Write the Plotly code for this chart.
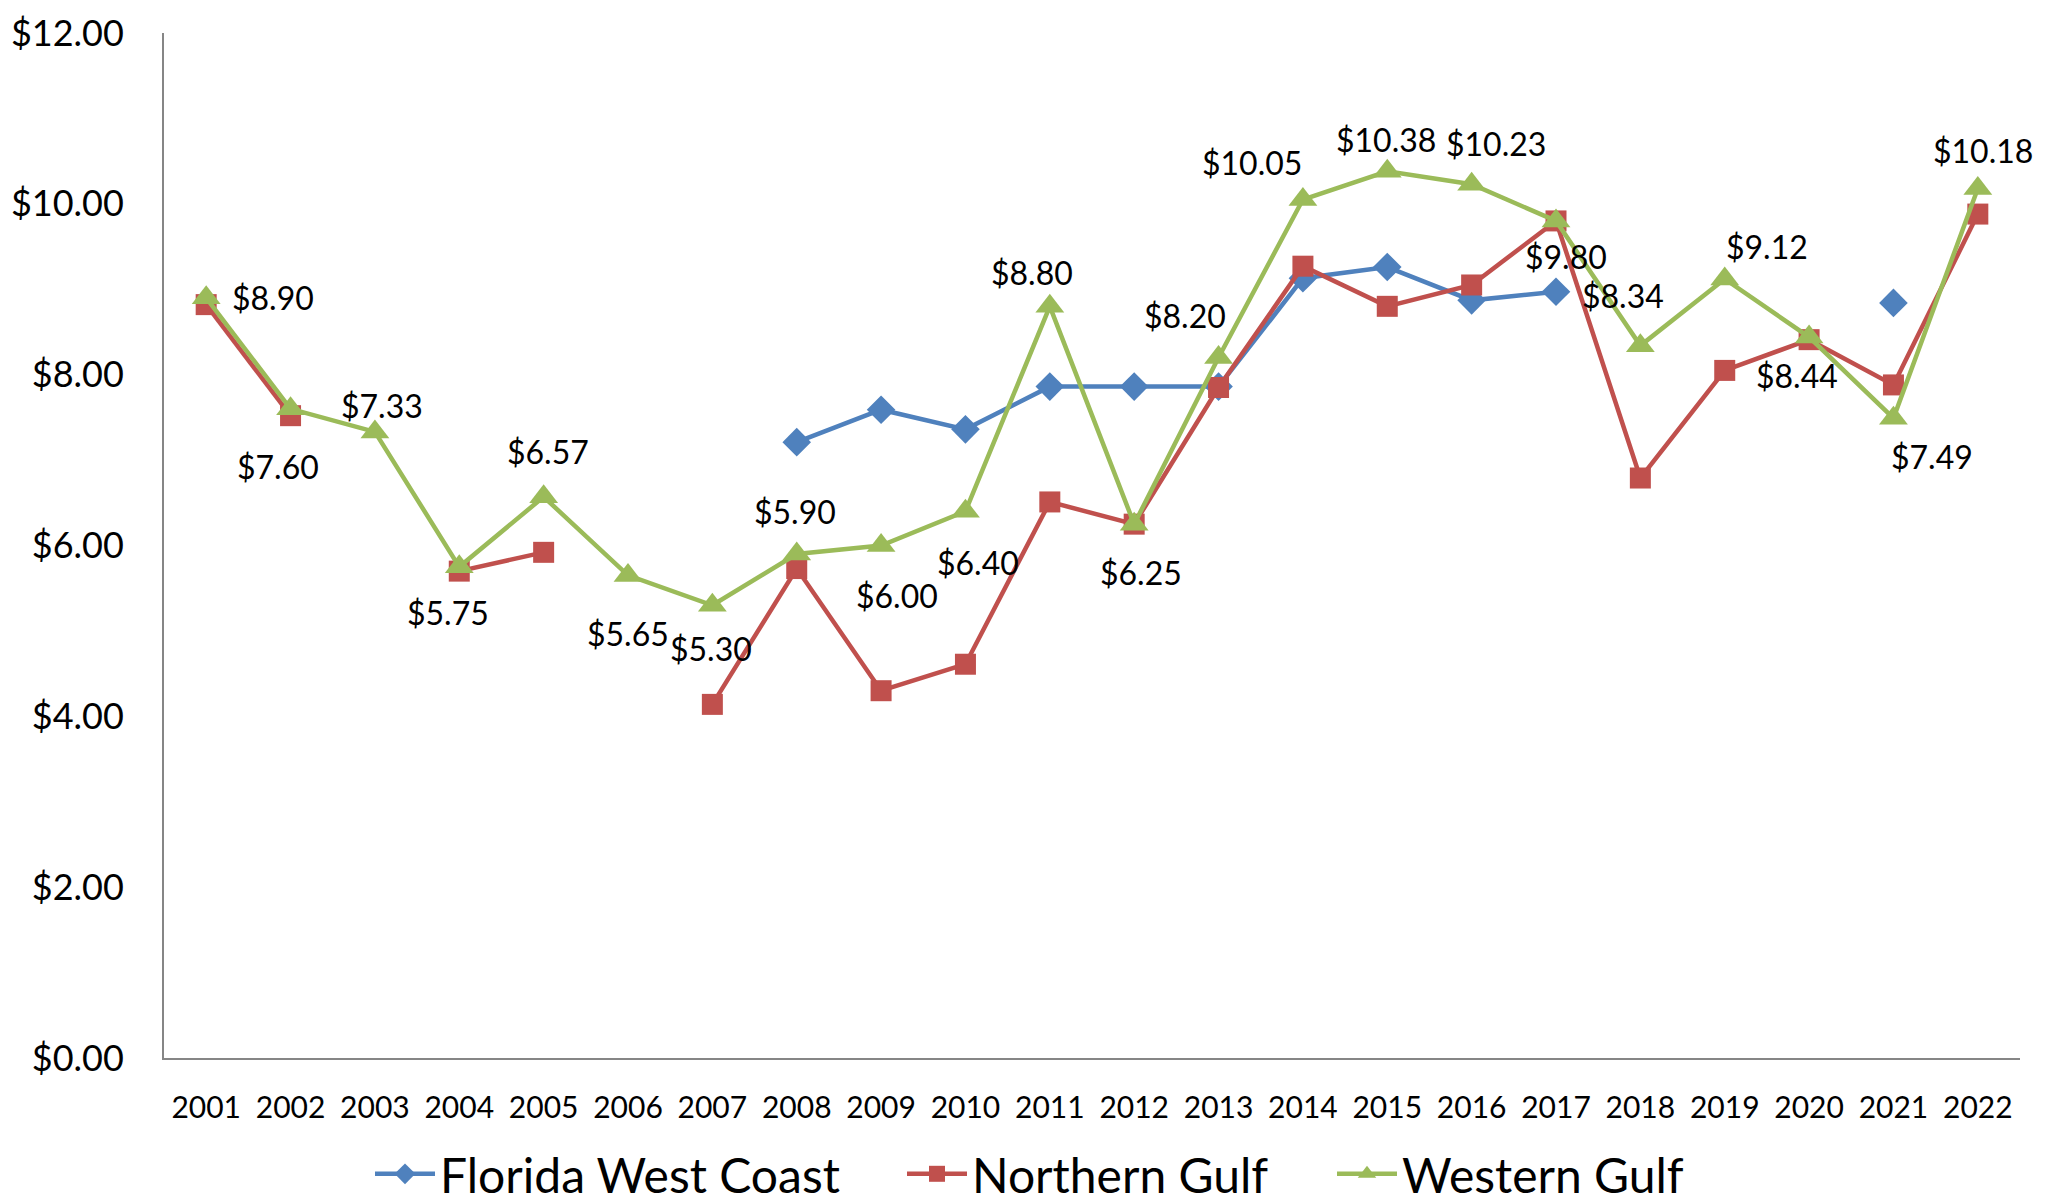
import plotly.graph_objects as go

years = [str(y) for y in range(2001, 2023)]

florida_west_coast = [None, None, None, None, None, None, None, 7.21, 7.59, 7.36, 7.86,
                      7.86, 7.86, 9.13, 9.26, 8.87, 8.97, None, None, None, 8.84, None]
northern_gulf = [8.82, 7.52, None, 5.70, 5.92, None, 4.14, 5.73, 4.30, 4.61, 6.51,
                 6.25, 7.85, 9.27, 8.80, 9.05, 9.80, 6.79, 8.05, 8.41, 7.88, 9.88]
western_gulf = [8.90, 7.60, 7.33, 5.75, 6.57, 5.65, 5.30, 5.90, 6.00, 6.40, 8.80,
                6.25, 8.20, 10.05, 10.38, 10.23, 9.80, 8.34, 9.12, 8.44, 7.49, 10.18]

# where each Western Gulf label sits relative to its point (x px, y px up)
label_shift = [(67, 0), (-13, -58), (7, 26), (-11, -46), (4, 45), (0, -58), (-1, -43),
               (-2, 43), (16, -50), (13, -51), (-18, 34), (7, -48), (-34, 42), (-51, 37),
               (-1, 32), (24, 41), (10, -36), (-17, 50), (42, 33), (-12, -38), (39, -38),
               (5, 38)]

FONT = 'Lato'
# the page body adds an 8px margin, so the figure is sized to fit inside it
W, H = 2043, 1196

fig = go.Figure()
fig.add_trace(go.Scatter(
    x=years, y=florida_west_coast, name='Florida West Coast', mode='lines+markers',
    line=dict(color='#4F81BD', width=4.5),
    marker=dict(symbol='diamond', size=22, color='#4F81BD'),
    connectgaps=False, legend='legend'
))
fig.add_trace(go.Scatter(
    x=years, y=northern_gulf, name='Northern Gulf', mode='lines+markers',
    line=dict(color='#C0504D', width=4.5),
    marker=dict(symbol='square', size=21, color='#C0504D'),
    connectgaps=False, legend='legend2'
))
fig.add_trace(go.Scatter(
    x=years, y=western_gulf, name='Western Gulf', mode='lines+markers',
    line=dict(color='#9BBB59', width=4.5),
    marker=dict(symbol='triangle-up', size=25, color='#9BBB59'),
    connectgaps=False, legend='legend3'
))

# category axis: annotations placed by category index
for i, (v, (dx, dy)) in enumerate(zip(western_gulf, label_shift)):
    fig.add_annotation(
        x=i, y=v, text=f'${v:.2f}', showarrow=False,
        xshift=dx, yshift=dy,
        font=dict(family=FONT, size=32, color='black')
    )

legend_style = dict(
    orientation='h', xref='container', yref='container',
    xanchor='left', y=0.025, yanchor='middle',
    font=dict(family=FONT, size=48), itemwidth=60,
    bgcolor='rgba(0,0,0,0)'
)

fig.update_layout(
    width=W, height=H,
    plot_bgcolor='white', paper_bgcolor='white',
    font=dict(family=FONT, color='black'),
    margin=dict(l=156, r=31, t=25, b=146),
    showlegend=True,
    legend=dict(legend_style, x=362 / W),
    legend2=dict(legend_style, x=894 / W),
    legend3=dict(legend_style, x=1324 / W),
)
fig.update_xaxes(
    type='category', range=[-0.5, 21.5], showgrid=False, zeroline=False,
    showline=True, linecolor='#868686', linewidth=2,
    ticks='', tickfont=dict(family=FONT, size=30),
    ticklabelstandoff=22, automargin=False
)
fig.update_yaxes(
    range=[0, 12], dtick=2, tickformat='$.2f',
    showgrid=False, zeroline=False,
    showline=True, linecolor='#868686', linewidth=2,
    ticks='', tickfont=dict(family=FONT, size=36),
    ticklabelstandoff=31, automargin=False, ticklabeloverflow='allow'
)

fig.write_html('out.html')
